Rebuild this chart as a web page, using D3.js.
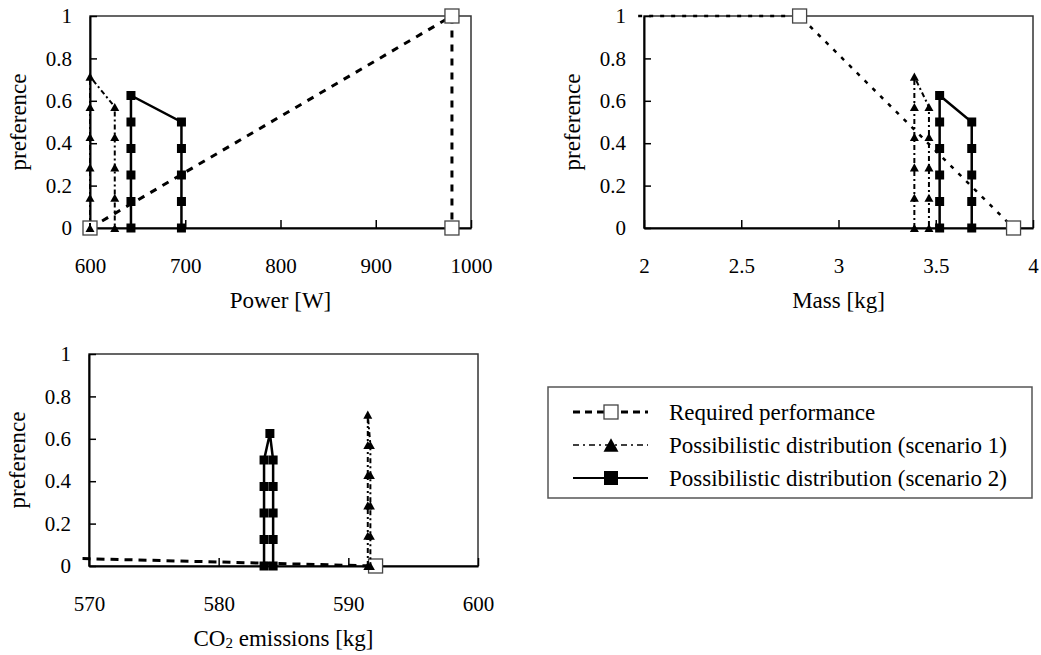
<!DOCTYPE html>
<html>
<head>
<meta charset="utf-8">
<script src="https://cdn.jsdelivr.net/npm/d3@7"></script>
<style>
  body { margin: 0; background: #fff; }
</style>
</head>
<body>
<script>
// 画布尺寸
var w = 1041;
var h = 655;
var serif = "'Liberation Serif', 'Times New Roman', serif";

// 纵轴刻度（三个图共用）
var yTicks = [0, 0.2, 0.4, 0.6, 0.8, 1];

// Power [W]
var powerTicks = [600, 700, 800, 900, 1000];
var powerReqX = [600, 980, 980];
var powerReqY = [0, 1, 0];
var powerS1X = [600, 600, 600, 600, 600, 600, 626, 626, 626, 626, 626];
var powerS1Y = [0, 0.143, 0.286, 0.429, 0.571, 0.714, 0.571, 0.429, 0.286, 0.143, 0];
var powerS2X = [643, 643, 643, 643, 643, 643, 696, 696, 696, 696, 696];
var powerS2Y = [0, 0.125, 0.25, 0.375, 0.5, 0.625, 0.5, 0.375, 0.25, 0.125, 0];

// Mass [kg]
var massTicks = [2, 2.5, 3, 3.5, 4];
var massReqX = [1.97, 2.8, 3.9];
var massReqY = [1, 1, 0];
var massS1X = [3.39, 3.39, 3.39, 3.39, 3.39, 3.39, 3.465, 3.465, 3.465, 3.465, 3.465];
var massS1Y = [0, 0.143, 0.286, 0.429, 0.571, 0.714, 0.571, 0.429, 0.286, 0.143, 0];
var massS2X = [3.52, 3.52, 3.52, 3.52, 3.52, 3.52, 3.685, 3.685, 3.685, 3.685, 3.685];
var massS2Y = [0, 0.125, 0.25, 0.375, 0.5, 0.625, 0.5, 0.375, 0.25, 0.125, 0];

// CO2 emissions [kg]
var co2Ticks = [570, 580, 590, 600];
var co2ReqX = [569.5, 592.1];
var co2ReqY = [0.035, 0];
var co2S1X = [591.5, 591.5, 591.5, 591.5, 591.5, 591.5, 591.7, 591.7, 591.7, 591.7, 591.7];
var co2S1Y = [0, 0.143, 0.286, 0.429, 0.571, 0.714, 0.571, 0.429, 0.286, 0.143, 0];
var co2S2X = [583.5, 583.5, 583.5, 583.5, 583.5, 583.95, 584.2, 584.2, 584.2, 584.2, 584.2];
var co2S2Y = [0, 0.125, 0.25, 0.375, 0.5, 0.625, 0.5, 0.375, 0.25, 0.125, 0];

// 图例文字
var legendLabels = [
  "Required performance",
  "Possibilistic distribution (scenario 1)",
  "Possibilistic distribution (scenario 2)"
];

function zip(xs, ys) {
  return xs.map(function (x, i) { return { x: x, y: ys[i] }; });
}

// 每个子图的位置与样式
var panels = [
  { left: 90, right: 471, top: 16, bottom: 228, domain: [600, 1000], ticks: powerTicks,
    title: "Power [W]", req: zip(powerReqX, powerReqY), s1: zip(powerS1X, powerS1Y), s2: zip(powerS2X, powerS2Y),
    reqWidth: 3, reqDash: "7,7" },
  { left: 644, right: 1033, top: 16, bottom: 228, domain: [2, 4], ticks: massTicks,
    title: "Mass [kg]", req: zip(massReqX, massReqY), s1: zip(massS1X, massS1Y), s2: zip(massS2X, massS2Y),
    reqWidth: 2.5, reqDash: "4,7" },
  { left: 89, right: 478, top: 354, bottom: 566, domain: [570, 600], ticks: co2Ticks,
    title: "CO2", req: zip(co2ReqX, co2ReqY), s1: zip(co2S1X, co2S1Y), s2: zip(co2S2X, co2S2Y),
    reqWidth: 3, reqDash: "8,6" }
];

var svg = d3.select("body").append("svg").attr("width", w).attr("height", h);

function triPath(s) {
  var hh = s * 0.9;
  return "M0," + (-hh / 2) + "L" + (s / 2) + "," + (hh / 2) + "L" + (-s / 2) + "," + (hh / 2) + "Z";
}

panels.forEach(function (p) {
  var xScale = d3.scaleLinear().domain(p.domain).range([p.left, p.right]);
  var yScale = d3.scaleLinear().domain([0, 1]).range([p.bottom, p.top]);
  var g = svg.append("g");

  // 外框
  g.append("rect")
    .attr("x", p.left).attr("y", p.top)
    .attr("width", p.right - p.left).attr("height", p.bottom - p.top)
    .attr("fill", "none").attr("stroke", "#333").attr("stroke-width", 1.5);

  // X 轴（刻度朝内）
  var xAxis = d3.axisBottom(xScale).tickValues(p.ticks).tickSizeInner(-8).tickSizeOuter(0).tickPadding(30)
    .tickFormat(function (d) { return String(d); });
  var gx = g.append("g").attr("transform", "translate(0," + p.bottom + ")").call(xAxis);
  gx.select(".domain").attr("stroke", "#000").attr("stroke-width", 2);
  gx.selectAll(".tick line").attr("stroke", "#000").attr("stroke-width", 1.5);
  gx.selectAll("text").style("font-size", "21px").style("font-family", serif).attr("fill", "#000");

  // Y 轴（刻度朝内）
  var yAxis = d3.axisLeft(yScale).tickValues(yTicks).tickSizeInner(-7).tickSizeOuter(0).tickPadding(18)
    .tickFormat(function (d) { return String(d); });
  var gy = g.append("g").attr("transform", "translate(" + p.left + ",0)").call(yAxis);
  gy.select(".domain").attr("stroke", "#000").attr("stroke-width", 2);
  gy.selectAll(".tick line").attr("stroke", "#000").attr("stroke-width", 1.5);
  gy.selectAll("text").style("font-size", "21px").style("font-family", serif).attr("fill", "#000");

  // 轴标题
  var tx = g.append("text")
    .attr("x", (p.left + p.right) / 2).attr("y", p.bottom + 80)
    .attr("text-anchor", "middle")
    .style("font-size", "23px").style("font-family", serif);
  if (p.title === "CO2") {
    tx.append("tspan").text("CO");
    tx.append("tspan").style("font-size", "15px").attr("dy", 2).text("2");
    tx.append("tspan").attr("dy", -2).text(" emissions [kg]");
  } else {
    tx.text(p.title);
  }
  g.append("text")
    .attr("transform", "translate(" + (p.left - 64) + "," + ((p.top + p.bottom) / 2) + ") rotate(-90)")
    .attr("text-anchor", "middle")
    .style("font-size", "23px").style("font-family", serif)
    .text("preference");

  var line = d3.line()
    .x(function (d) { return xScale(d.x); })
    .y(function (d) { return yScale(d.y); });

  // Required performance
  g.append("path").attr("d", line(p.req))
    .attr("fill", "none").attr("stroke", "#000")
    .attr("stroke-width", p.reqWidth).attr("stroke-dasharray", p.reqDash);
  g.selectAll(".req").data(p.req.filter(function (d) { return d.x >= p.domain[0] && d.x <= p.domain[1] + 0.5; }))
    .enter().append("rect").attr("class", "req")
    .attr("x", function (d) { return xScale(d.x) - 7; })
    .attr("y", function (d) { return yScale(d.y) - 7; })
    .attr("width", 14).attr("height", 14)
    .attr("fill", "#fff").attr("stroke", "#444").attr("stroke-width", 1.3);

  // Scenario 1
  g.append("path").attr("d", line(p.s1))
    .attr("fill", "none").attr("stroke", "#000")
    .attr("stroke-width", 2).attr("stroke-dasharray", "5,3,2,3");
  g.selectAll(".s1").data(p.s1).enter().append("path").attr("class", "s1")
    .attr("transform", function (d) { return "translate(" + xScale(d.x) + "," + yScale(d.y) + ")"; })
    .attr("d", triPath(9)).attr("fill", "#000");

  // Scenario 2
  g.append("path").attr("d", line(p.s2))
    .attr("fill", "none").attr("stroke", "#000").attr("stroke-width", 2.5);
  g.selectAll(".s2").data(p.s2).enter().append("rect").attr("class", "s2")
    .attr("x", function (d) { return xScale(d.x) - 4.5; })
    .attr("y", function (d) { return yScale(d.y) - 4.5; })
    .attr("width", 9).attr("height", 9).attr("fill", "#000");
});

// 图例
var legend = svg.append("g");
legend.append("rect")
  .attr("x", 548).attr("y", 387).attr("width", 484).attr("height", 111)
  .attr("fill", "#fff").attr("stroke", "#555").attr("stroke-width", 1.5);

var rowY = d3.scalePoint().domain(legendLabels).range([412, 478]);
var legendStyles = [
  { width: 3, dash: "7,5" },
  { width: 1.5, dash: "6,4,2,4" },
  { width: 2, dash: null }
];
legendLabels.forEach(function (label, i) {
  var y = rowY(label);
  legend.append("line")
    .attr("x1", 573).attr("x2", 648).attr("y1", y).attr("y2", y)
    .attr("stroke", "#000").attr("stroke-width", legendStyles[i].width)
    .attr("stroke-dasharray", legendStyles[i].dash);
  if (i === 0) {
    legend.append("rect").attr("x", 611 - 7).attr("y", y - 7).attr("width", 14).attr("height", 14)
      .attr("fill", "#fff").attr("stroke", "#444").attr("stroke-width", 1.3);
  } else if (i === 1) {
    legend.append("path").attr("transform", "translate(611," + y + ")").attr("d", triPath(15)).attr("fill", "#000");
  } else {
    legend.append("rect").attr("x", 611 - 7).attr("y", y - 7).attr("width", 14).attr("height", 14).attr("fill", "#000");
  }
  legend.append("text").attr("x", 669).attr("y", y).attr("dy", "0.35em")
    .style("font-size", "23px").style("font-family", serif).text(label);
});
</script>
</body>
</html>
